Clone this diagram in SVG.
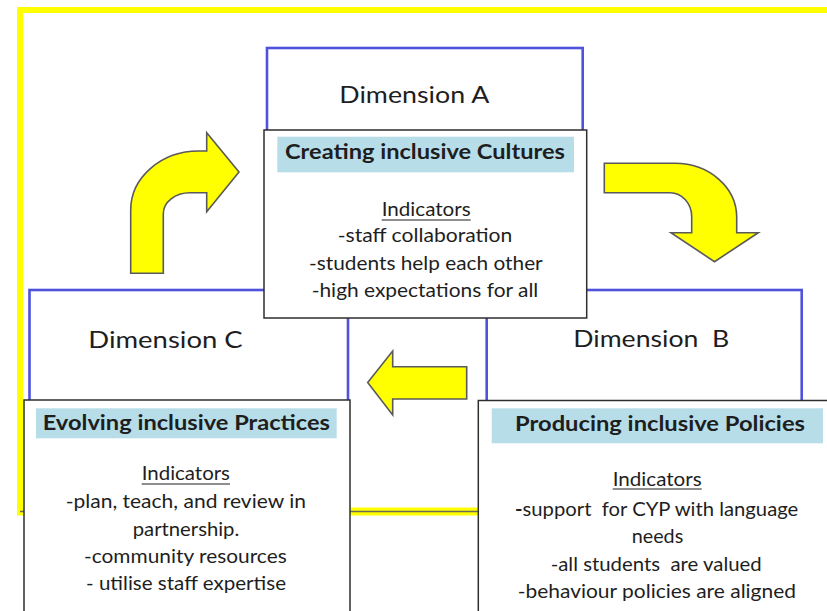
<svg xmlns="http://www.w3.org/2000/svg" width="827" height="611" viewBox="0 0 827 611">
  <style>
    .frame { fill: none; stroke: #ffff00; stroke-width: 6; }
    .dim { fill: none; stroke: #4f52db; stroke-width: 2.6; }
    .card { fill: #ffffff; stroke: #2e2e2e; stroke-width: 1.5; }
    .head { fill: #b7dde8; }
    .arrow { fill: #ffff00; stroke: #5a5a5a; stroke-width: 1.6; stroke-linejoin: miter; }
    text { font-family: Lato, "Open Sans", "Liberation Sans", sans-serif; fill: #1e1e1e; }
    .dlabel { font-size: 24px; }
    .title { font-size: 21px; font-weight: bold; }
    .body { font-size: 19px; }
    .ul { stroke: #1e1e1e; stroke-width: 1.2; }
  </style>

  <rect width="827" height="611" fill="#ffffff"/>

  <!-- outer yellow frame -->
  <g id="frame">
    <rect class="frame" x="20" y="10" width="860" height="501.5"/>
    <line x1="17" y1="511.5" x2="827" y2="511.5" stroke="#ffff00" stroke-width="8"/>
    <line x1="20" y1="511.5" x2="827" y2="511.5" stroke="#6b6b5a" stroke-width="1.5"/>
  </g>

  <!-- dimension outlines -->
  <g id="dimension-a">
    <rect class="dim" x="267" y="48" width="315.7" height="150"/>
    <text class="dlabel" x="339.3" y="103" textLength="150" lengthAdjust="spacingAndGlyphs">Dimension A</text>
  </g>
  <g id="dimension-c">
    <rect class="dim" x="29.5" y="290" width="318.5" height="160"/>
    <text class="dlabel" x="88.3" y="348.3" textLength="154.4" lengthAdjust="spacingAndGlyphs">Dimension C</text>
  </g>
  <g id="dimension-b">
    <rect class="dim" x="486.7" y="290" width="315" height="160"/>
    <text class="dlabel" x="573.3" y="346.7" textLength="156" lengthAdjust="spacingAndGlyphs" xml:space="preserve">Dimension  B</text>
  </g>

  <!-- Creating inclusive Cultures -->
  <g id="cultures">
    <rect class="card" x="264" y="130" width="322.7" height="188"/>
    <rect class="head" x="277.3" y="136.7" width="296.7" height="35.6"/>
    <text class="title" x="285" y="159.3" textLength="280" lengthAdjust="spacingAndGlyphs">Creating inclusive Cultures</text>
    <text class="body" x="381.7" y="215.7" textLength="89" lengthAdjust="spacingAndGlyphs">Indicators</text>
    <line class="ul" x1="381.7" y1="220" x2="470.7" y2="220"/>
    <text class="body" x="337.7" y="242.3" textLength="174.6" lengthAdjust="spacingAndGlyphs">-staff collaboration</text>
    <text class="body" x="309" y="270" textLength="233.7" lengthAdjust="spacingAndGlyphs">-students help each other</text>
    <text class="body" x="311.7" y="296.7" textLength="226.6" lengthAdjust="spacingAndGlyphs">-high expectations for all</text>
  </g>

  <!-- Evolving inclusive Practices -->
  <g id="practices">
    <rect class="card" x="24" y="400" width="326" height="230"/>
    <rect class="head" x="36" y="408.3" width="300.7" height="30"/>
    <text class="title" x="42.7" y="430" textLength="287.3" lengthAdjust="spacingAndGlyphs">Evolving inclusive Practices</text>
    <text class="body" x="141.7" y="480" textLength="88.3" lengthAdjust="spacingAndGlyphs">Indicators</text>
    <line class="ul" x1="141.7" y1="484" x2="230" y2="484"/>
    <text class="body" x="65.7" y="508.3" textLength="240.3" lengthAdjust="spacingAndGlyphs">-plan, teach, and review in</text>
    <text class="body" x="132.7" y="536" textLength="106.6" lengthAdjust="spacingAndGlyphs">partnership.</text>
    <text class="body" x="84" y="563.3" textLength="202.7" lengthAdjust="spacingAndGlyphs">-community resources</text>
    <text class="body" x="86" y="590" textLength="200" lengthAdjust="spacingAndGlyphs">- utilise staff expertise</text>
  </g>

  <!-- Producing inclusive Policies -->
  <g id="policies">
    <rect class="card" x="478.3" y="400.5" width="380" height="230"/>
    <rect class="head" x="491.7" y="408.3" width="331.3" height="35"/>
    <text class="title" x="515" y="430.7" textLength="290" lengthAdjust="spacingAndGlyphs">Producing inclusive Policies</text>
    <text class="body" x="612.7" y="485.5" textLength="89" lengthAdjust="spacingAndGlyphs">Indicators</text>
    <line class="ul" x1="612.7" y1="489" x2="701.7" y2="489"/>
    <text class="body" x="515" y="516" textLength="283.3" lengthAdjust="spacingAndGlyphs" xml:space="preserve"><tspan font-weight="bold">-</tspan>support  for CYP with language</text>
    <text class="body" x="631.7" y="543.3" textLength="51.6" lengthAdjust="spacingAndGlyphs">needs</text>
    <text class="body" x="550.7" y="571" textLength="211" lengthAdjust="spacingAndGlyphs" xml:space="preserve">-all students  are valued</text>
    <text class="body" x="517.7" y="598.3" textLength="278.3" lengthAdjust="spacingAndGlyphs">-behaviour policies are aligned</text>
  </g>

  <!-- cycle arrows -->
  <g id="connectors">
    <path class="arrow" d="M130.7 273.3 L130.7 210 A68 59 0 0 1 198.7 151 L206.7 151 L206.7 132.7 L239 171.9 L206.7 211.7 L206.7 192.7 L190 192.7 A26.7 21 0 0 0 163.3 213.7 L163.3 273.3 Z"/>
    <path class="arrow" d="M604.3 163.3 L675 163.3 A61.7 54 0 0 1 736.7 217.3 L736.7 232.7 L758.3 232.7 L714.5 261.7 L671 232.7 L691.7 232.7 L691.7 216.7 A21.7 24 0 0 0 670 192.7 L604.3 192.7 Z"/>
    <path class="arrow" d="M466.7 366.7 L392.7 366.7 L392.7 351 L367.7 382.5 L392.7 415 L392.7 399 L466.7 399 Z"/>
  </g>
</svg>
